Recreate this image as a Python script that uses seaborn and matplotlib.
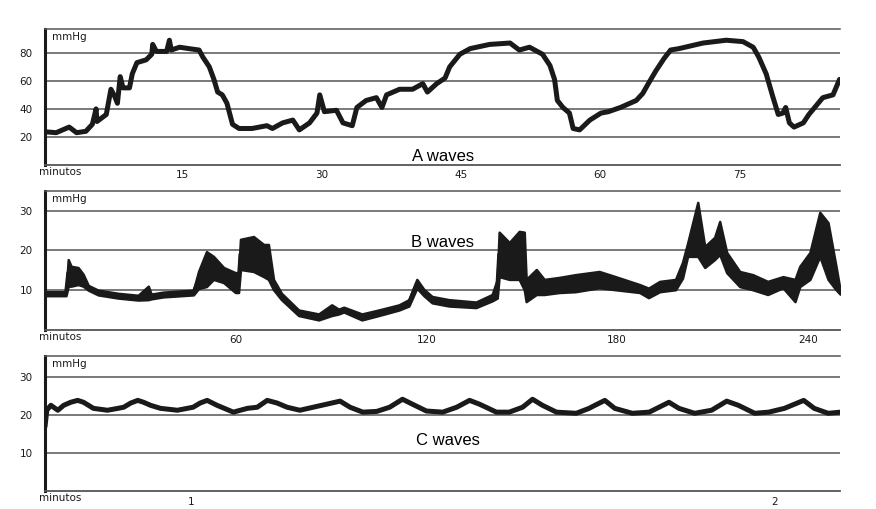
import matplotlib
matplotlib.use("Agg")
import matplotlib.pyplot as plt
import seaborn as sns
import pandas as pd
import numpy as np

# --- A waves (minutes, mmHg) ---
a_min = [0.3, 1.4, 2.8, 3.6, 4.6, 5.3, 5.7, 5.8, 6.8, 7.3, 7.7, 8.0, 8.3, 8.6, 9.3, 9.6,
         10.1, 11.1, 11.7, 11.8, 12.2, 13.3, 13.6, 13.8, 14.7, 15.7, 16.8, 17.2, 17.9, 18.4,
         18.8, 19.3, 19.8, 20.4, 21.1, 22.5, 24.1, 24.7, 25.8, 26.9, 27.6, 28.7, 29.5, 29.8,
         30.3, 31.6, 32.3, 33.3, 33.8, 34.8, 35.9, 36.5, 37.0, 38.4, 39.8, 40.9, 41.4, 42.4,
         43.3, 43.8, 44.9, 46.0, 48.1, 50.3, 51.3, 52.4, 53.8, 54.6, 55.1, 55.4, 56.0, 56.7,
         57.1, 57.8, 58.9, 60.1, 60.9, 62.2, 63.9, 64.6, 65.2, 66.0, 66.9, 67.6, 68.5, 71.1,
         73.6, 75.4, 76.5, 77.1, 77.9, 78.6, 79.2, 79.7, 80.0, 80.4, 80.9, 81.9, 82.5, 84.0,
         85.1, 85.8]
a_val = [23.6, 23, 27, 23, 24, 29, 40, 31, 36, 54, 49, 44, 63, 55, 55, 65,
         73, 75, 79, 86, 81, 81, 89, 82, 84, 83, 82, 77, 70, 61,
         52, 50, 44, 29, 26, 26, 28, 26, 30, 32, 25, 30, 37, 50,
         38, 39, 30, 28, 41, 46, 48, 41, 50, 54, 54, 58, 52, 58,
         62, 70, 79, 83, 86, 87, 82, 84, 79, 71, 61, 46, 41, 37,
         26, 25, 32, 37, 38, 41, 46, 51, 58, 67, 76, 82, 83, 87,
         89, 88, 84, 77, 65, 49, 36, 37, 41, 30, 27, 30, 36, 48,
         50, 61]

# --- B waves (minutes, lower / upper envelope in mmHg) ---
b_min = [0, 6.6, 7.3, 8.2, 10.4, 12.0, 13.6, 16.7, 23.0, 29.3, 32.5, 33.4, 37.2, 46.7,
         48.3, 50.8, 53.0, 56.2, 59.9, 60.9, 61.5, 65.6, 68.8, 70.3, 71.9, 74.4, 79.8,
         86.1, 90.2, 92.4, 94.0, 99.7, 105.0, 111.4, 114.5, 117.0, 119.2, 121.8, 127.1,
         135.6, 140.7, 142.3, 142.9, 146.1, 149.2, 150.8, 151.4, 154.6, 157.1, 161.8,
         166.9, 174.4, 179.5, 187.1, 189.9, 193.4, 198.4, 200.6, 202.2, 205.4, 207.6,
         210.7, 212.3, 214.5, 218.6, 222.7, 227.4, 232.2, 236.0, 237.5, 240.7, 243.8,
         246.4, 248.9, 250.2]
b_lo = [8.6, 8.6, 11, 11, 11.4, 11, 10, 8.8, 8, 7.5, 7.6, 7.8, 8.3, 8.8,
        10.4, 10.9, 12.7, 11.9, 9.4, 9.4, 15.2, 14.7, 13.4, 12.7, 10.1, 7.6, 3.6,
        2.5, 3.6, 4, 4.5, 2.5, 3.6, 5, 6, 10.5, 8.6, 6.8, 6,
        5.6, 7.3, 8, 13.4, 12.7, 12.7, 10.1, 7.1, 8.9, 8.9, 9.4,
        9.6, 10.6, 10.1, 9.4, 8.1, 9.6, 10.1, 13, 18.5, 18.5, 15.7,
        17.7, 19, 14.4, 10.9, 10.1, 8.9, 10.6, 7.1, 10.9, 12.7, 18.5,
        12.7, 10.1, 9]
b_hi = [9.6, 9.6, 17.7, 16, 15.7, 14, 11.2, 10, 9.2, 8.7, 11, 9, 9.5, 10,
        14.7, 19.7, 18.5, 15.7, 14.4, 14.4, 22.8, 23.5, 21.5, 21.5, 12.7, 9.2, 5,
        4, 6.3, 5.2, 5.7, 4, 5, 6.3, 7.6, 12.7, 10.2, 8.4, 7.6,
        7, 8.9, 12.7, 24.6, 22, 24.8, 24.6, 12.7, 15.2, 12.7, 13.2,
        13.9, 14.7, 13.4, 11.4, 10.5, 12.2, 12.7, 17, 21.8, 32.1, 21,
        23.3, 27.3, 19.5, 14.7, 13.9, 12.2, 13.4, 12.7, 16, 19.5, 29.6,
        27, 16, 10]

# --- C waves (minutes, mmHg) ---
c_min = [0.749, 0.752, 0.759, 0.771, 0.781, 0.793, 0.805, 0.815, 0.832, 0.856, 0.874, 0.884,
         0.896, 0.908, 0.918, 0.930, 0.947, 0.976, 1.003, 1.015, 1.027, 1.044, 1.072, 1.096,
         1.113, 1.130, 1.147, 1.164, 1.186, 1.209, 1.232, 1.255, 1.272, 1.294, 1.318, 1.340,
         1.362, 1.379, 1.403, 1.431, 1.455, 1.477, 1.494, 1.523, 1.545, 1.568, 1.585, 1.602,
         1.626, 1.660, 1.682, 1.692, 1.709, 1.726, 1.756, 1.785, 1.802, 1.819, 1.836, 1.863,
         1.892, 1.918, 1.938, 1.966, 1.990, 2.017, 2.050, 2.068, 2.092, 2.113]
c_val = [17, 21.3, 22.6, 21.3, 22.6, 23.4, 23.9, 23.4, 21.8, 21.3, 21.8, 22.1,
         23.2, 23.9, 23.4, 22.6, 21.8, 21.3, 22.1, 23.2, 23.9, 22.6, 20.8, 21.8,
         22.1, 23.9, 23.2, 22.1, 21.3, 22.1, 22.9, 23.7, 22.1, 20.8, 21.0, 22.1,
         24.2, 22.9, 21.1, 20.8, 22.1, 23.9, 22.9, 20.8, 20.8, 22.1, 24.2, 22.6,
         20.8, 20.5, 21.8, 22.6, 23.9, 21.8, 20.5, 20.8, 22.1, 23.4, 21.8, 20.5,
         21.3, 23.7, 22.6, 20.5, 20.8, 21.8, 23.9, 21.8, 20.5, 20.8]

sns.set_style("white")
plt.rcParams['font.family'] = ['DejaVu Sans']

fig = plt.figure(figsize=(8.76, 5.09), dpi=100)
ax_a = fig.add_axes([0.0514, 0.676, 0.908, 0.267])
ax_b = fig.add_axes([0.0514, 0.352, 0.908, 0.273])
ax_c = fig.add_axes([0.0514, 0.035, 0.908, 0.265])

ink = "#1a1a1a"
grid = "#555555"


def style_panel(ax, xlim, ylim, xt, yt, xtl, label, lx, ly):
    ax.set_xlim(*xlim)
    ax.set_ylim(*ylim)
    ax.set_xticks(xt)
    ax.set_xticklabels(xtl)
    ax.set_yticks(yt)
    for y in yt:
        ax.axhline(y, color=grid, lw=1.1, zorder=1)
    ax.spines['right'].set_visible(False)
    ax.spines['top'].set_color(grid)
    ax.spines['top'].set_linewidth(1.1)
    ax.spines['bottom'].set_color(grid)
    ax.spines['bottom'].set_linewidth(1.3)
    ax.spines['left'].set_color(ink)
    ax.spines['left'].set_linewidth(2.2)
    ax.tick_params(axis='y', direction='out', length=7, width=1, color=grid,
                   labelsize=7.5, labelcolor=ink, pad=2)
    ax.tick_params(axis='x', direction='inout', length=6, width=1.2, color=ink,
                   labelsize=7.5, labelcolor=ink, pad=1)
    ax.set_xlabel("")
    ax.set_ylabel("")
    ax.text(0.009, 0.94, "mmHg", transform=ax.transAxes, fontsize=7.5,
            color=ink, ha='left', va='center')
    ax.text(-0.007, -0.05, "minutos", transform=ax.transAxes, fontsize=7.5,
            color=ink, ha='left', va='center')
    ax.text(lx, ly, label, transform=ax.transAxes, fontsize=12,
            family='Liberation Sans', color='black', ha='center', va='center')


# A waves
df_a = pd.DataFrame({"min": a_min, "mmHg": a_val})
sns.lineplot(data=df_a, x="min", y="mmHg", ax=ax_a, color=ink, lw=3.6,
             sort=False, zorder=3, solid_joinstyle='round')
style_panel(ax_a, (0.2, 85.9), (0, 97), [15, 30, 45, 60, 75], [20, 40, 60, 80],
            ["15", "30", "45", "60", "75"], "A waves", 0.50, 0.06)

# B waves
b_mid = (np.array(b_lo) + np.array(b_hi)) / 2
df_b = pd.DataFrame({"min": b_min, "mmHg": b_mid})
ax_b.fill_between(b_min, b_lo, b_hi, color=ink, lw=1.8, edgecolor=ink, zorder=3)
sns.lineplot(data=df_b, x="min", y="mmHg", ax=ax_b, color=ink, lw=2.8,
             sort=False, zorder=3, solid_joinstyle='round')
style_panel(ax_b, (0, 250.3), (0, 35), [60, 120, 180, 240], [10, 20, 30],
            ["60", "120", "180", "240"], "B waves", 0.50, 0.626)

# C waves
df_c = pd.DataFrame({"min": c_min, "mmHg": c_val})
sns.lineplot(data=df_c, x="min", y="mmHg", ax=ax_c, color=ink, lw=3.6,
             sort=False, zorder=3, solid_joinstyle='round')
style_panel(ax_c, (0.749, 2.113), (0, 35.5), [1, 2], [10, 20, 30],
            ["1", "2"], "C waves", 0.507, 0.378)

fig.savefig("out.png", dpi=100)
